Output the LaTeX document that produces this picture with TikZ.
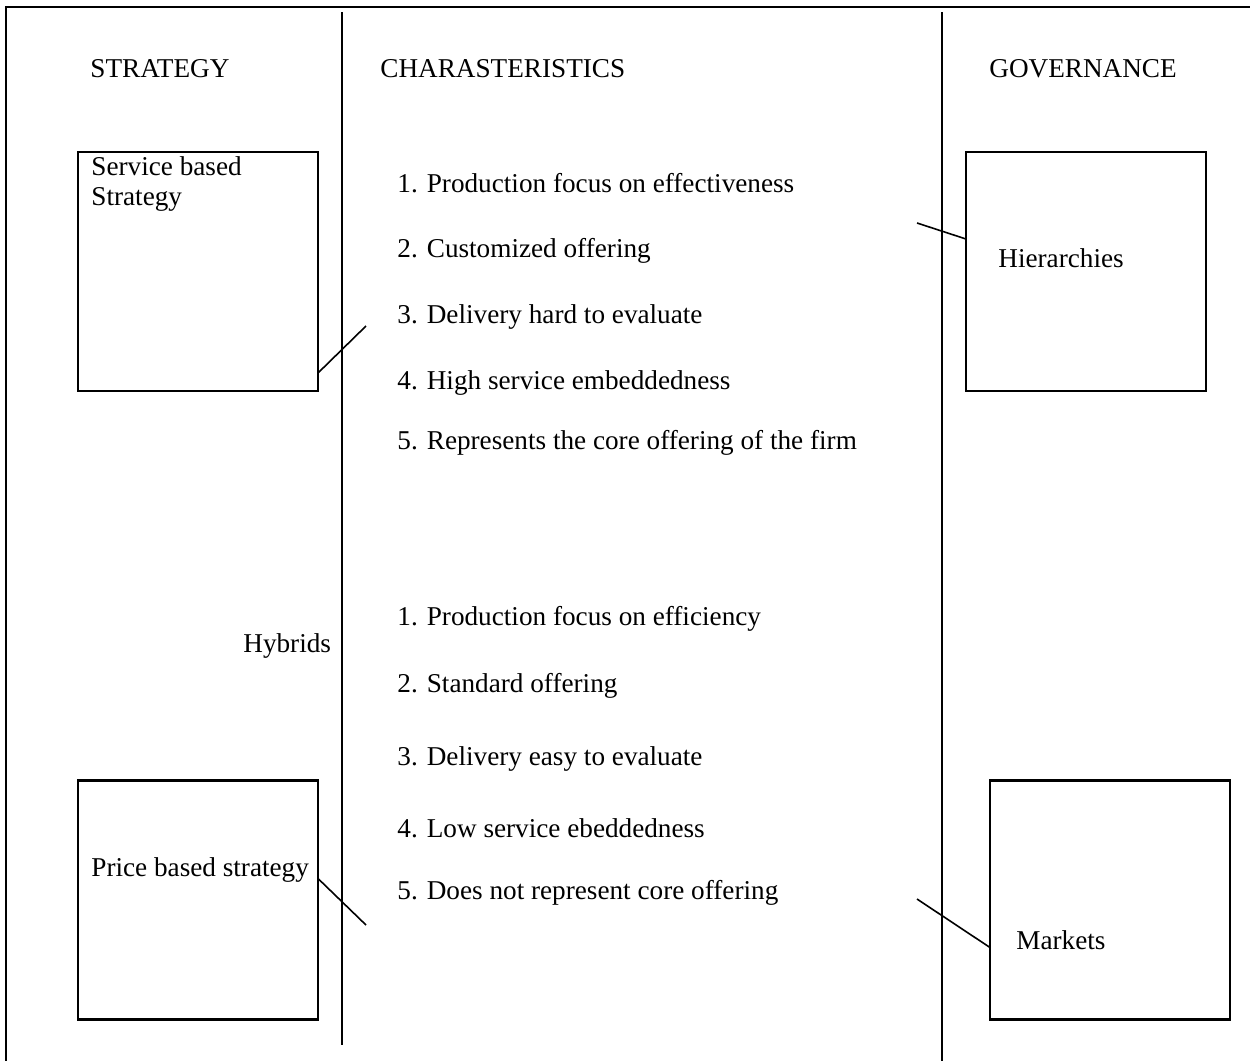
\documentclass[tikz,border=0pt]{standalone}
\usepackage{fontspec}
\setmainfont{Liberation Serif}
\begin{document}
\begin{tikzpicture}[x=0.5pt,y=-0.5pt,
  every node/.style={font=\fontsize{13.6}{16}\selectfont},
  frameline/.style={line width=1.1pt},
  sbox/.style={draw,line width=1.1pt,rectangle,inner sep=0pt,outer sep=0pt,
    minimum width=120pt,minimum height=119.5pt},
  txt/.style={anchor=base west,inner sep=0pt},
  link/.style={line width=0.8pt}]
\useasboundingbox (0,0) rectangle (1250,1061);

% outer frame and column separators
\draw[frameline] (6,1061) -- (6,7) -- (1250,7);
\draw[frameline] (342,12) -- (342,1045);
\draw[frameline] (942,12) -- (942,1061);

% column headings
\node[txt] (hstrat) at (90,77) {STRATEGY};
\node[txt] (hchar) at (380,77) {CHARASTERISTICS};
\node[txt] (hgov) at (989,77) {GOVERNANCE};

% boxes
\node[sbox] (service) at (198,271.5) {};
\node[sbox] (hier) at (1086,271.5) {};
\node[sbox] (price) at (198,900) {};
\node[sbox] (markets) at (1110,900) {};

% box labels
\node[txt] (servicetxt) at (91,175) {Service based};
\node[txt] (servicetxt2) at (91,205) {Strategy};
\node[txt] (hiertxt) at (998,267) {Hierarchies};
\node[txt] (pricetxt) at (91,876) {Price based strategy};
\node[txt] (markettxt) at (1016,949) {Markets};
\node[txt] (hybrids) at (243,652) {Hybrids};

% characteristics of the service based strategy
\node[txt] (a1) at (397,192) {1. Production focus on effectiveness};
\node[txt] (a2) at (397,257) {2. Customized offering};
\node[txt] (a3) at (397,323) {3. Delivery hard to evaluate};
\node[txt] (a4) at (397,389) {4. High service embeddedness};
\node[txt] (a5) at (397,449) {5. Represents the core offering of the firm};

% characteristics of the price based strategy
\node[txt] (b1) at (397,625) {1. Production focus on efficiency};
\node[txt] (b2) at (397,692) {2. Standard offering};
\node[txt] (b3) at (397,765) {3. Delivery easy to evaluate};
\node[txt] (b4) at (397,837) {4. Low service ebeddedness};
\node[txt] (b5) at (397,899) {5. Does not represent core offering};

% short connectors
\coordinate (sfree) at (366,326);
\coordinate (pfree) at (366,925);
\coordinate (hfree) at (917,223);
\coordinate (mfree) at (917,899);
\draw[link] ([yshift=9pt]service.south east) -- (sfree);
\draw[link] ([yshift=-49pt]price.north east) -- (pfree);
\draw[link] ([yshift=-43.5pt]hier.north west) -- (hfree);
\draw[link] ([yshift=-83.5pt]markets.north west) -- (mfree);
\end{tikzpicture}
\end{document}
